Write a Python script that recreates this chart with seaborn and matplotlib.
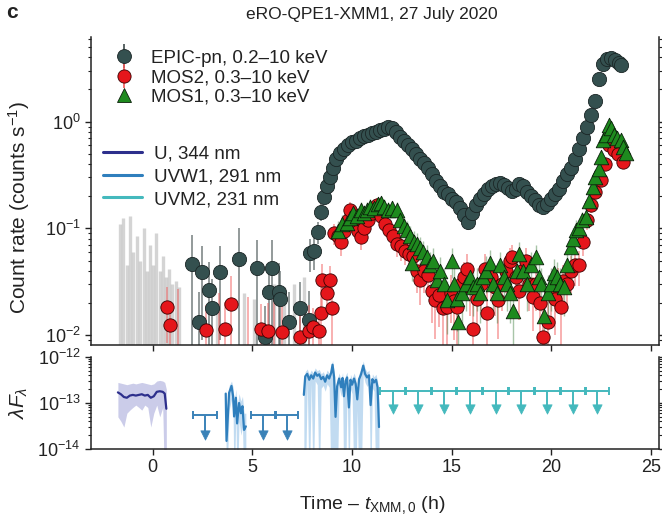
import numpy as np
import pandas as pd
import matplotlib
matplotlib.use("Agg")
import matplotlib.pyplot as plt
import seaborn as sns
from matplotlib.lines import Line2D

sns.set_theme(style="ticks")
plt.rcParams["font.family"] = ["Liberation Sans", "DejaVu Sans"]
plt.rcParams["mathtext.fontset"] = "custom"
plt.rcParams["mathtext.rm"] = "Liberation Sans"
plt.rcParams["mathtext.it"] = "Liberation Sans:italic"
plt.rcParams["axes.edgecolor"] = "#222222"
plt.rcParams["text.color"] = "#222222"
plt.rcParams["xtick.color"] = "#222222"
plt.rcParams["ytick.color"] = "#222222"

# ---------------- X-ray light curves (counts s^-1) ----------------
# EPIC-pn
pn_time = [1.99, 2.32, 2.49, 2.82, 2.99, 3.37, 4.32, 5.24, 5.65, 5.82, 5.99, 6.32, 6.40, 6.82, 7.40, 7.82,
           7.90, 8.10, 8.30, 8.45, 8.60, 8.75, 8.90, 9.05, 9.20, 9.40,
           9.60, 9.80, 10.00, 10.20, 10.40, 10.60, 10.80, 11.00, 11.20, 11.40,
           11.60, 11.80, 12.00, 12.20, 12.40, 12.60, 12.80, 13.00, 13.20, 13.40,
           13.60, 13.80, 14.00, 14.20, 14.40, 14.60, 14.80, 15.00, 15.20, 15.40,
           15.60, 15.80, 16.00, 16.20, 16.40, 16.60, 16.80, 17.00, 17.20, 17.40,
           17.60, 17.80, 18.00, 18.20, 18.40, 18.60, 18.80, 19.00, 19.20, 19.40,
           19.60, 19.80, 20.00, 20.20, 20.40, 20.60, 20.80, 21.00, 21.20, 21.40,
           21.60, 21.80, 22.00, 22.20, 22.40, 22.60, 22.80, 23.00, 23.20, 23.40, 23.50]
pn_rate = [0.046, 0.0134, 0.039, 0.0265, 0.0178, 0.039, 0.052, 0.043, 0.0097, 0.0255, 0.043, 0.0255, 0.022, 0.0134, 0.0178, 0.014,
           0.059, 0.061, 0.093, 0.143, 0.198, 0.250, 0.300, 0.370, 0.450, 0.510,
           0.550, 0.600, 0.640, 0.660, 0.700, 0.740, 0.750, 0.780, 0.800, 0.840,
           0.860, 0.900, 0.870, 0.800, 0.720, 0.660, 0.600, 0.550, 0.500, 0.450,
           0.410, 0.370, 0.320, 0.280, 0.250, 0.220, 0.210, 0.190, 0.175, 0.155,
           0.135, 0.115, 0.140, 0.165, 0.190, 0.210, 0.235, 0.250, 0.260, 0.265,
           0.255, 0.240, 0.225, 0.235, 0.260, 0.250, 0.220, 0.200, 0.185, 0.165,
           0.158, 0.170, 0.190, 0.210, 0.235, 0.280, 0.320, 0.370, 0.450, 0.550,
           0.700, 0.900, 1.150, 1.550, 2.500, 3.500, 3.900, 3.950, 3.800, 3.550, 3.400]
pn_err = [0.040, 0.012, 0.030, 0.022, 0.016, 0.030, 0.048, 0.035, 0.009, 0.022, 0.035, 0.022, 0.018, 0.012, 0.014, 0.012,
          0.020, 0.020, 0.022, 0.025, 0.028, 0.030, 0.032, 0.035, 0.038, 0.040,
          0.040, 0.042, 0.043, 0.044, 0.045, 0.046, 0.046, 0.047, 0.048, 0.049,
          0.049, 0.050, 0.050, 0.048, 0.046, 0.044, 0.042, 0.040, 0.038, 0.036,
          0.035, 0.033, 0.031, 0.029, 0.027, 0.025, 0.025, 0.024, 0.023, 0.022,
          0.020, 0.019, 0.021, 0.023, 0.024, 0.025, 0.026, 0.027, 0.027, 0.028,
          0.027, 0.026, 0.026, 0.026, 0.027, 0.027, 0.025, 0.024, 0.023, 0.022,
          0.022, 0.022, 0.024, 0.025, 0.026, 0.028, 0.030, 0.032, 0.035, 0.040,
          0.045, 0.050, 0.060, 0.070, 0.090, 0.100, 0.110, 0.110, 0.110, 0.105, 0.100]

# EPIC-pn bins whose rate lies below the plotted range: upper end of their error bar
pn_bg_time = [-1.62, -1.48, -1.30, -1.12, -0.98, -0.80, -0.62, -0.46, -0.30, -0.14, 0.02, 0.18,
              0.34, 0.50, 0.66, 0.82, 0.98, 1.15, 1.30, 3.20, 4.60, 5.10, 6.10, 6.60, 7.10, 7.60]
pn_bg_top = [0.110, 0.125, 0.045, 0.130, 0.060, 0.085, 0.050, 0.100, 0.040, 0.070, 0.045, 0.090,
             0.040, 0.055, 0.035, 0.042, 0.030, 0.032, 0.028, 0.020, 0.025, 0.022, 0.030, 0.028, 0.030, 0.035]

# MOS2
mos2_time = [0.70, 0.87, 1.25, 2.65, 3.30, 3.60, 3.90, 4.80, 5.45, 5.80, 6.10, 6.50, 7.37, 7.82, 8.05, 8.32, 8.43, 8.49, 8.73, 8.90, 9.00,
             9.10, 9.30, 9.45, 9.60, 9.80, 9.90, 10.10, 10.30, 10.45, 10.60,
             10.80, 11.00, 11.25, 11.45, 11.65, 11.85, 12.05, 12.25, 12.45, 12.65,
             12.85, 13.05, 13.25, 13.40, 13.60, 13.80, 14.00, 14.15, 14.35, 14.55,
             14.75, 14.95, 15.10, 15.25, 15.45, 15.60, 15.75, 15.90, 16.07, 16.25,
             16.45, 16.65, 16.75, 16.95, 17.15, 17.32, 17.50, 17.70, 17.90, 18.00,
             18.20, 18.40, 18.55, 18.75, 18.90, 19.07, 19.25, 19.45, 19.57, 19.82,
             20.00, 20.20, 20.35, 20.49, 20.60, 20.80, 21.00, 21.20, 21.40, 21.60,
             21.80, 21.99, 22.20, 22.49, 22.70, 22.90, 23.15, 23.35, 23.60]
mos2_rate = [0.0185, 0.0124, 0.005, 0.0112, 0.005, 0.0115, 0.0195, 0.005, 0.0115, 0.0110, 0.005, 0.0108, 0.0097, 0.0110, 0.0120, 0.0110, 0.0162, 0.0328, 0.0250, 0.0328, 0.0180,
             0.090, 0.085, 0.075, 0.095, 0.120, 0.149, 0.110, 0.095, 0.083, 0.100,
             0.120, 0.140, 0.166, 0.130, 0.110, 0.097, 0.085, 0.072, 0.068, 0.062,
             0.058, 0.055, 0.040, 0.033, 0.040, 0.037, 0.026, 0.0213, 0.024, 0.0178,
             0.0185, 0.025, 0.021, 0.0185, 0.030, 0.035, 0.042, 0.028, 0.0115, 0.022,
             0.030, 0.042, 0.016, 0.035, 0.028, 0.0213, 0.030, 0.040, 0.050, 0.054,
             0.035, 0.026, 0.040, 0.050, 0.030, 0.023, 0.030, 0.020, 0.0097, 0.0134,
             0.025, 0.022, 0.030, 0.0185, 0.032, 0.030, 0.040, 0.045, 0.045, 0.075,
             0.120, 0.166, 0.220, 0.284, 0.400, 0.600, 0.543, 0.500, 0.420]
mos2_err = [0.010, 0.008, 0.022, 0.008, 0.020, 0.009, 0.016, 0.018, 0.008, 0.009, 0.022, 0.008, 0.007, 0.008, 0.006, 0.007, 0.012, 0.014, 0.010, 0.012, 0.010,
            0.020, 0.020, 0.020, 0.022, 0.024, 0.026, 0.022, 0.020, 0.020, 0.022,
            0.024, 0.025, 0.026, 0.024, 0.022, 0.020, 0.020, 0.018, 0.018, 0.017,
            0.017, 0.016, 0.015, 0.014, 0.015, 0.014, 0.013, 0.012, 0.012, 0.011,
            0.011, 0.012, 0.012, 0.011, 0.013, 0.014, 0.015, 0.013, 0.009, 0.012,
            0.013, 0.015, 0.010, 0.014, 0.013, 0.012, 0.013, 0.015, 0.016, 0.016,
            0.014, 0.012, 0.015, 0.016, 0.013, 0.012, 0.013, 0.011, 0.008, 0.009,
            0.012, 0.012, 0.013, 0.011, 0.013, 0.013, 0.015, 0.016, 0.016, 0.020,
            0.024, 0.028, 0.032, 0.036, 0.045, 0.055, 0.052, 0.050, 0.045]

# MOS1
mos1_time = [9.30, 9.50, 9.74, 9.90, 10.07, 10.25, 10.45, 10.60, 10.74, 10.90,
             11.10, 11.30, 11.45, 11.60, 11.80, 12.00, 12.24, 12.40, 12.60, 12.74,
             12.90, 12.99, 13.10, 13.24, 13.40, 13.55, 13.74, 13.90, 14.05, 14.24,
             14.40, 14.60, 14.74, 14.99, 15.10, 15.24, 15.32, 15.50, 15.70, 15.90,
             16.07, 16.25, 16.40, 16.55, 16.70, 16.90, 17.05, 17.25, 17.40, 17.60,
             17.75, 17.90, 18.07, 18.25, 18.40, 18.60, 18.80, 19.00, 19.24, 19.40,
             19.50, 19.65, 19.85, 20.00, 20.15, 20.30, 20.45, 20.65, 20.80, 20.99,
             21.10, 21.24, 21.40, 21.55, 21.74, 21.90, 22.07, 22.20, 22.40, 22.49,
             22.60, 22.75, 22.90, 23.00, 23.15, 23.30, 23.49, 23.60, 23.74]
mos1_rate = [0.095, 0.110, 0.112, 0.125, 0.138, 0.130, 0.150, 0.140, 0.149, 0.160,
             0.155, 0.170, 0.172, 0.160, 0.150, 0.155, 0.149, 0.120, 0.105, 0.097,
             0.085, 0.047, 0.075, 0.072, 0.065, 0.060, 0.054, 0.045, 0.050, 0.033,
             0.040, 0.030, 0.0213, 0.050, 0.030, 0.022, 0.0134, 0.025, 0.030, 0.035,
             0.028, 0.030, 0.025, 0.035, 0.040, 0.047, 0.030, 0.025, 0.045, 0.035,
             0.030, 0.025, 0.017, 0.040, 0.058, 0.040, 0.030, 0.045, 0.054, 0.035,
             0.030, 0.015, 0.025, 0.030, 0.038, 0.035, 0.030, 0.028, 0.045, 0.067,
             0.080, 0.097, 0.100, 0.120, 0.129, 0.180, 0.246, 0.300, 0.360, 0.470,
             0.670, 0.750, 0.930, 0.880, 0.750, 0.700, 0.670, 0.580, 0.505]
mos1_err = [0.022, 0.024, 0.024, 0.025, 0.026, 0.025, 0.027, 0.026, 0.026, 0.027,
            0.027, 0.028, 0.028, 0.027, 0.026, 0.027, 0.026, 0.024, 0.022, 0.021,
            0.020, 0.015, 0.019, 0.019, 0.018, 0.017, 0.016, 0.015, 0.016, 0.013,
            0.014, 0.013, 0.011, 0.016, 0.013, 0.011, 0.009, 0.012, 0.013, 0.014,
            0.013, 0.013, 0.012, 0.014, 0.015, 0.016, 0.013, 0.012, 0.015, 0.014,
            0.013, 0.012, 0.010, 0.015, 0.017, 0.015, 0.013, 0.015, 0.016, 0.014,
            0.013, 0.009, 0.012, 0.013, 0.014, 0.014, 0.013, 0.013, 0.015, 0.018,
            0.020, 0.022, 0.022, 0.024, 0.025, 0.030, 0.034, 0.037, 0.040, 0.045,
            0.055, 0.058, 0.065, 0.062, 0.058, 0.055, 0.054, 0.050, 0.047]

# ---------------- UV (lambda F_lambda) ----------------
u_time = [-1.75, -1.60, -1.45, -1.30, -1.15, -1.00, -0.85, -0.70, -0.55, -0.40, -0.25, -0.10, 0.05, 0.20, 0.35, 0.50, 0.60, 0.68]
u_flux = [1.7e-13, 1.55e-13, 1.35e-13, 1.3e-13, 1.45e-13, 1.5e-13, 1.45e-13, 1.5e-13, 1.55e-13, 1.45e-13, 1.5e-13, 1.3e-13,
          1.4e-13, 1.75e-13, 1.8e-13, 1.75e-13, 1.6e-13, 7.5e-14]
u_lo = [5e-14, 4e-14, 3e-14, 6e-14, 7e-14, 8e-14, 9e-14, 8e-14, 7e-14, 9e-14, 8e-14, 3e-14, 6e-14, 9e-14, 5e-14, 8e-14, 1e-15, 1e-15]
u_hi = [2.8e-13, 2.7e-13, 2.6e-13, 2.5e-13, 2.6e-13, 2.7e-13, 2.6e-13, 2.7e-13, 2.8e-13, 2.7e-13, 2.6e-13, 2.5e-13,
        2.6e-13, 3.0e-13, 3.1e-13, 3.0e-13, 2.8e-13, 2.0e-13]

w1a_time = [3.66, 3.70, 3.83, 3.95, 4.03, 4.08, 4.17, 4.23, 4.33, 4.42, 4.50, 4.58, 4.67]
w1a_flux = [1.6e-13, 1.5e-14, 1.67e-13, 2.35e-13, 1.4e-13, 5.1e-14, 1.3e-13, 3.6e-14, 1.0e-13, 6e-14, 8.5e-14, 2.6e-14, 3.1e-14]
w1a_lo = [6e-14, 1e-15, 7e-14, 1.2e-13, 6e-14, 1e-15, 6e-14, 1e-15, 4e-14, 2e-14, 3e-14, 1e-15, 1e-15]
w1a_hi = [2.2e-13, 6e-14, 2.4e-13, 3.0e-13, 2.2e-13, 1.0e-13, 2.0e-13, 8e-14, 1.6e-13, 1.1e-13, 1.4e-13, 6e-14, 6e-14]

w1b_time = [7.58, 7.65, 7.75, 7.85, 7.95, 8.05, 8.15, 8.25, 8.35, 8.45, 8.55, 8.65, 8.75, 8.85, 8.95,
            9.02, 9.10, 9.17, 9.25, 9.35, 9.45, 9.52, 9.59, 9.67, 9.75, 9.84, 9.92, 10.00, 10.10,
            10.18, 10.26, 10.35, 10.45, 10.56, 10.65, 10.75, 10.85, 10.93, 11.02, 11.10, 11.20, 11.28, 11.35]
w1b_flux = [1.5e-13, 3.8e-13, 4.3e-13, 3.2e-13, 4.0e-13, 3.4e-13, 4.6e-13, 3.9e-13, 4.2e-13, 3.3e-13, 3.7e-13, 2.9e-13,
            4.0e-13, 3.4e-13, 4.5e-13, 6.8e-13, 3.6e-13, 5e-14, 2.3e-13, 3.4e-13, 2.2e-13, 3.5e-13, 1.4e-13, 3.0e-13,
            3.6e-13, 8e-14, 3.2e-13, 2.5e-13, 3.4e-13, 2.6e-13, 1.2e-13, 3.3e-13, 4.2e-13, 6.5e-13, 4.3e-13, 3.6e-13,
            4.0e-13, 9e-14, 3.3e-13, 2.8e-13, 3.2e-13, 2.2e-13, 3e-14]
w1b_lo = [1e-15, 1e-15, 2.8e-13, 1e-15, 2.6e-13, 1e-15, 3.0e-13, 2.5e-13, 1e-15, 2.1e-13, 2.4e-13, 1.8e-13,
          2.6e-13, 2.2e-13, 1e-15, 1e-15, 1e-15, 1e-15, 1e-15, 2.2e-13, 1.4e-13, 2.2e-13, 1e-15, 1e-15,
          2.3e-13, 1e-15, 2.0e-13, 1.6e-13, 1e-15, 1e-15, 7e-14, 1e-15, 1e-15, 4.2e-13, 2.8e-13, 2.3e-13,
          2.6e-13, 1e-15, 2.1e-13, 1.8e-13, 1e-15, 1e-15, 1e-15]
w1b_hi = [3.0e-13, 4.8e-13, 5.5e-13, 4.2e-13, 5.2e-13, 4.5e-13, 5.8e-13, 5.0e-13, 5.4e-13, 4.3e-13, 4.8e-13, 3.9e-13,
          5.2e-13, 4.5e-13, 5.8e-13, 8.5e-13, 4.8e-13, 1.2e-13, 3.2e-13, 4.5e-13, 3.0e-13, 4.6e-13, 2.0e-13, 4.0e-13,
          4.7e-13, 1.4e-13, 4.2e-13, 3.4e-13, 4.5e-13, 3.5e-13, 1.8e-13, 4.4e-13, 5.4e-13, 8.2e-13, 5.6e-13, 4.7e-13,
          5.2e-13, 1.5e-13, 4.3e-13, 3.7e-13, 4.2e-13, 3.0e-13, 1.0e-13]

# upper limits
w1_ul_time = [2.61, 5.54, 6.75]
w1_ul_halfwidth = [0.59, 0.59, 0.55]
w1_ul_flux = [5.5e-14, 5.5e-14, 5.5e-14]
w1_ul_arrow = [2.0e-14, 2.0e-14, 2.0e-14]

m2_ul_time = [12.03, 13.32, 14.61, 15.90, 17.20, 18.50, 19.80, 21.10, 22.30]
m2_ul_halfwidth = [0.62, 0.62, 0.62, 0.62, 0.62, 0.62, 0.62, 0.62, 0.60]
m2_ul_flux = [1.85e-13] * 9
m2_ul_arrow = [7.5e-14] * 9

# ---------------- colours ----------------
c_pn = "#34504f"
c_m2 = "#e5161b"
c_m1 = "#1e8a1e"
c_u = "#2d2f8c"
c_w1 = "#2f7fbd"
c_m2uv = "#44b9bd"

# ---------------- figure ----------------
fig = plt.figure(figsize=(6.62, 5.21), dpi=100)
W, H = 662.0, 521.0
ax1 = fig.add_axes([91 / W, 1 - 345 / H, (659 - 91) / W, (345 - 37) / H])
ax2 = fig.add_axes([91 / W, 1 - 449 / H, (659 - 91) / W, (449 - 357) / H])

for ax in (ax1, ax2):
    ax.set_yscale("log")
    ax.set_xlim(-3.1, 25.4)
    ax.spines["top"].set_visible(False)
    ax.spines["right"].set_visible(True)
    for s in ax.spines.values():
        s.set_linewidth(1.1)
    ax.tick_params(which="major", length=4, width=1.0, labelsize=13, direction="out")
    ax.tick_params(which="minor", length=2.2, width=0.8, direction="out")
    ax.tick_params(axis="y", which="both", right=True)
    ax.set_xticks([0, 5, 10, 15, 20, 25])

ax1.set_ylim(0.0081, 6.2)
ax2.set_ylim(1e-14, 1e-12)
ax1.tick_params(axis="x", labelbottom=False)

# --- top panel ---
ax1.vlines(pn_bg_time, ax1.get_ylim()[0], pn_bg_top, color="#9a9a9a", lw=2.4, alpha=0.42, zorder=1)
ax1.errorbar(pn_time, pn_rate, yerr=pn_err, fmt="none", ecolor="#3d4a4a", elinewidth=1.3, alpha=0.6, zorder=2)
ax1.errorbar(mos2_time, mos2_rate, yerr=mos2_err, fmt="none", ecolor="#f05a5a", elinewidth=1.1, alpha=0.6, zorder=2)
ax1.errorbar(mos1_time, mos1_rate, yerr=mos1_err, fmt="none", ecolor="#3f7f3f", elinewidth=1.0, alpha=0.45, zorder=2)

df_pn = pd.DataFrame({"t": pn_time, "r": pn_rate})
df_m2 = pd.DataFrame({"t": mos2_time, "r": mos2_rate})
df_m1 = pd.DataFrame({"t": mos1_time, "r": mos1_rate})
sns.scatterplot(data=df_pn, x="t", y="r", ax=ax1, marker="o", s=105, color=c_pn,
                edgecolor="#1b2626", linewidth=0.6, zorder=3, legend=False)
sns.scatterplot(data=df_m2, x="t", y="r", ax=ax1, marker="o", s=92, color=c_m2,
                edgecolor="#3a0000", linewidth=0.6, zorder=4, legend=False)
sns.scatterplot(data=df_m1, x="t", y="r", ax=ax1, marker="^", s=110, color=c_m1,
                edgecolor="#0b1f0b", linewidth=0.6, zorder=5, legend=False)
ax1.set_xlabel("")
ax1.set_ylabel("")

h_pn = (Line2D([], [], marker="|", ms=17, mew=1.2, color="#3d4a4a", ls=""),
        Line2D([], [], marker="o", ms=10, color=c_pn, mec="#1b2626", mew=0.6, ls=""))
h_m2 = (Line2D([], [], marker="|", ms=17, mew=1.2, color="#f05a5a", ls=""),
        Line2D([], [], marker="o", ms=9.5, color=c_m2, mec="#3a0000", mew=0.6, ls=""))
h_m1 = Line2D([], [], marker="^", ms=10.5, color=c_m1, mec="#0b1f0b", mew=0.6, ls="")
leg1 = ax1.legend([h_pn, h_m2, h_m1],
                  ["EPIC-pn, 0.2\u201310 keV", "MOS2, 0.3\u201310 keV", "MOS1, 0.3\u201310 keV"],
                  loc="upper left", bbox_to_anchor=(0.043, 0.958), frameon=False, fontsize=13.5,
                  handlelength=0.9, handletextpad=1.0, borderpad=0, borderaxespad=0, labelspacing=0.12)
ax1.add_artist(leg1)
h_u = Line2D([], [], color=c_u, lw=2.2)
h_w1 = Line2D([], [], color=c_w1, lw=2.2)
h_m2uv = Line2D([], [], color=c_m2uv, lw=2.2)
ax1.legend([h_u, h_w1, h_m2uv], ["U, 344 nm", "UVW1, 291 nm", "UVM2, 231 nm"],
           loc="upper left", bbox_to_anchor=(0.021, 0.648), frameon=False, fontsize=13.5,
           handlelength=2.1, handletextpad=0.65, borderpad=0, borderaxespad=0, labelspacing=0.3)

# --- bottom panel ---
ax2.fill_between(u_time, u_lo, u_hi, color="#8c8ed0", alpha=0.45, lw=0, zorder=1)
ax2.fill_between(w1a_time, w1a_lo, w1a_hi, color="#8fbfe6", alpha=0.55, lw=0, zorder=1)
ax2.fill_between(w1b_time, w1b_lo, w1b_hi, color="#8fbfe6", alpha=0.55, lw=0, zorder=1)
sns.lineplot(x=u_time, y=u_flux, ax=ax2, color=c_u, lw=1.6, estimator=None, errorbar=None, zorder=2)
sns.lineplot(x=w1a_time, y=w1a_flux, ax=ax2, color=c_w1, lw=1.6, estimator=None, errorbar=None, zorder=2)
sns.lineplot(x=w1b_time, y=w1b_flux, ax=ax2, color=c_w1, lw=1.6, estimator=None, errorbar=None, zorder=2)

for tt, hw, ff, aa, col in ((w1_ul_time, w1_ul_halfwidth, w1_ul_flux, w1_ul_arrow, "#3a82b8"),
                            (m2_ul_time, m2_ul_halfwidth, m2_ul_flux, m2_ul_arrow, c_m2uv)):
    ax2.errorbar(tt, ff, xerr=hw, fmt="none", ecolor=col, elinewidth=1.4, capsize=3.2, capthick=1.4, zorder=3)
    ax2.vlines(tt, aa, ff, color=col, lw=1.4, zorder=3)
    sns.scatterplot(x=tt, y=aa, ax=ax2, marker="v", s=45, color=col, edgecolor=col, linewidth=0.5,
                    zorder=4, legend=False)

ax2.set_ylabel("")
ax2.set_xlabel("")

# --- text ---
fig.text(372 / W, 1 - 15 / H, "eRO-QPE1-XMM1, 27 July 2020", ha="center", va="center", fontsize=12.5)
fig.text(6 / W, 1 - 12 / H, "c", ha="left", va="center", fontsize=15, fontweight="bold")
fig.text(19 / W, 1 - 208 / H, "Count rate (counts s$^{-1}$)", rotation=90, ha="center", va="center", fontsize=15)
fig.text(19 / W, 1 - 403 / H, r"$\lambda F_{\lambda}$", rotation=90, ha="center", va="center", fontsize=15)
fig.text(372 / W, 1 - 505 / H, "Time \u2013 $t_{\\mathrm{XMM,0}}$ (h)",
         ha="center", va="center", fontsize=14)

fig.savefig("out.png", dpi=100)
